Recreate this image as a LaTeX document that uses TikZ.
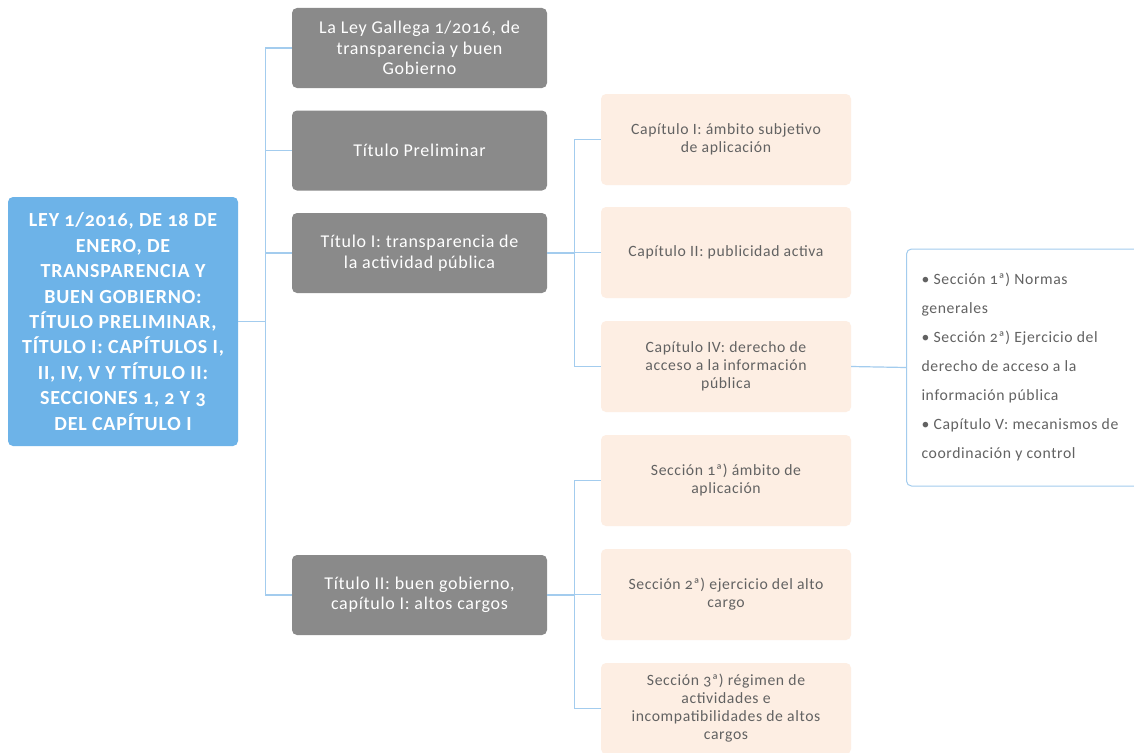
\documentclass[tikz,border=0pt]{standalone}
\usepackage{fontspec}
\setmainfont[Numbers=OldStyle, LetterSpace=4]{Carlito}
\definecolor{rootblue}{HTML}{6DB3E8}
\definecolor{greybox}{HTML}{8A8A8A}
\definecolor{peach}{HTML}{FDEEE3}
\definecolor{linec}{HTML}{A3CCEE}
\definecolor{txtgrey}{HTML}{626262}
\tikzset{
  rootbox/.style={fill=rootblue, rounded corners=5pt, text=white, align=center,
    minimum width=230pt, minimum height=249pt, inner sep=0pt,
    font=\bfseries\fontsize{20}{25.4}\selectfont},
  greynode/.style={fill=greybox, rounded corners=5pt, text=white, align=center,
    minimum width=255pt, minimum height=80pt, inner sep=0pt,
    font=\fontsize{18}{20.5}\selectfont},
  peachnode/.style={fill=peach, rounded corners=5pt, text=txtgrey, align=center,
    minimum width=250pt, minimum height=91pt, inner sep=0pt,
    font=\fontsize{15.7}{18}\selectfont},
  detailnode/.style={draw=linec, line width=1pt, fill=white, rounded corners=5pt, text=txtgrey,
    align=flush left, text width=215pt, inner xsep=15pt, inner ysep=0pt,
    minimum height=237pt, font=\fontsize{15.7}{29}\selectfont},
  conn/.style={draw=linec, line width=1.2pt}
}
\begin{document}
\begin{tikzpicture}[x=1pt,y=-1pt]
\clip (0,0) rectangle (1134,752);
\fill[white] (0,0) rectangle (1134,752);

\node[rootbox] (root) at (123,321.5) {LEY 1/2016, DE 18 DE\\ENERO, DE\\TRANSPARENCIA Y\\BUEN GOBIERNO:\\TÍTULO PRELIMINAR,\\TÍTULO I: CAPÍTULOS I,\\II, IV, V Y TÍTULO II:\\SECCIONES 1, 2 Y 3\\DEL CAPÍTULO I};

\node[greynode] (g1) at (419.5,48) {La Ley Gallega 1/2016, de\\transparencia y buen\\Gobierno};
\node[greynode] (g2) at (419.5,150.5) {Título Preliminar};
\node[greynode] (g3) at (419.5,253) {Título I: transparencia de\\la actividad pública};
\node[greynode] (g4) at (419.5,595) {Título II: buen gobierno,\\capítulo I: altos cargos};

\node[peachnode] (p1) at (726,139.5) {Capítulo I: ámbito subjetivo\\de aplicación};
\node[peachnode] (p2) at (726,252.5) {Capítulo II: publicidad activa};
\node[peachnode] (p3) at (726,366.5) {Capítulo IV: derecho de\\acceso a la información\\pública};
\node[peachnode] (p4) at (726,480.5) {Sección 1ª) ámbito de\\aplicación};
\node[peachnode] (p5) at (726,594.5) {Sección 2ª) ejercicio del alto\\cargo};
\node[peachnode] (p6) at (726,708.5) {Sección 3ª) régimen de\\actividades e\\incompatibilidades de altos\\cargos};

\node[detailnode, anchor=west] (d1) at (906,367.5) {• Sección 1ª) Normas\\generales\\• Sección 2ª) Ejercicio del\\derecho de acceso a la\\información pública\\• Capítulo V: mecanismos de\\coordinación y control};

\foreach \t in {g1,g2,g3,g4}
  \draw[conn] (root.east) -- ++(27,0) |- (\t.west);
\foreach \t in {p1,p2,p3}
  \draw[conn] (g3.east) -- ++(27,0) |- (\t.west);
\foreach \t in {p4,p5,p6}
  \draw[conn] (g4.east) -- ++(27,0) |- (\t.west);
\draw[conn] (p3.east) -- (d1.west);
\end{tikzpicture}
\end{document}
